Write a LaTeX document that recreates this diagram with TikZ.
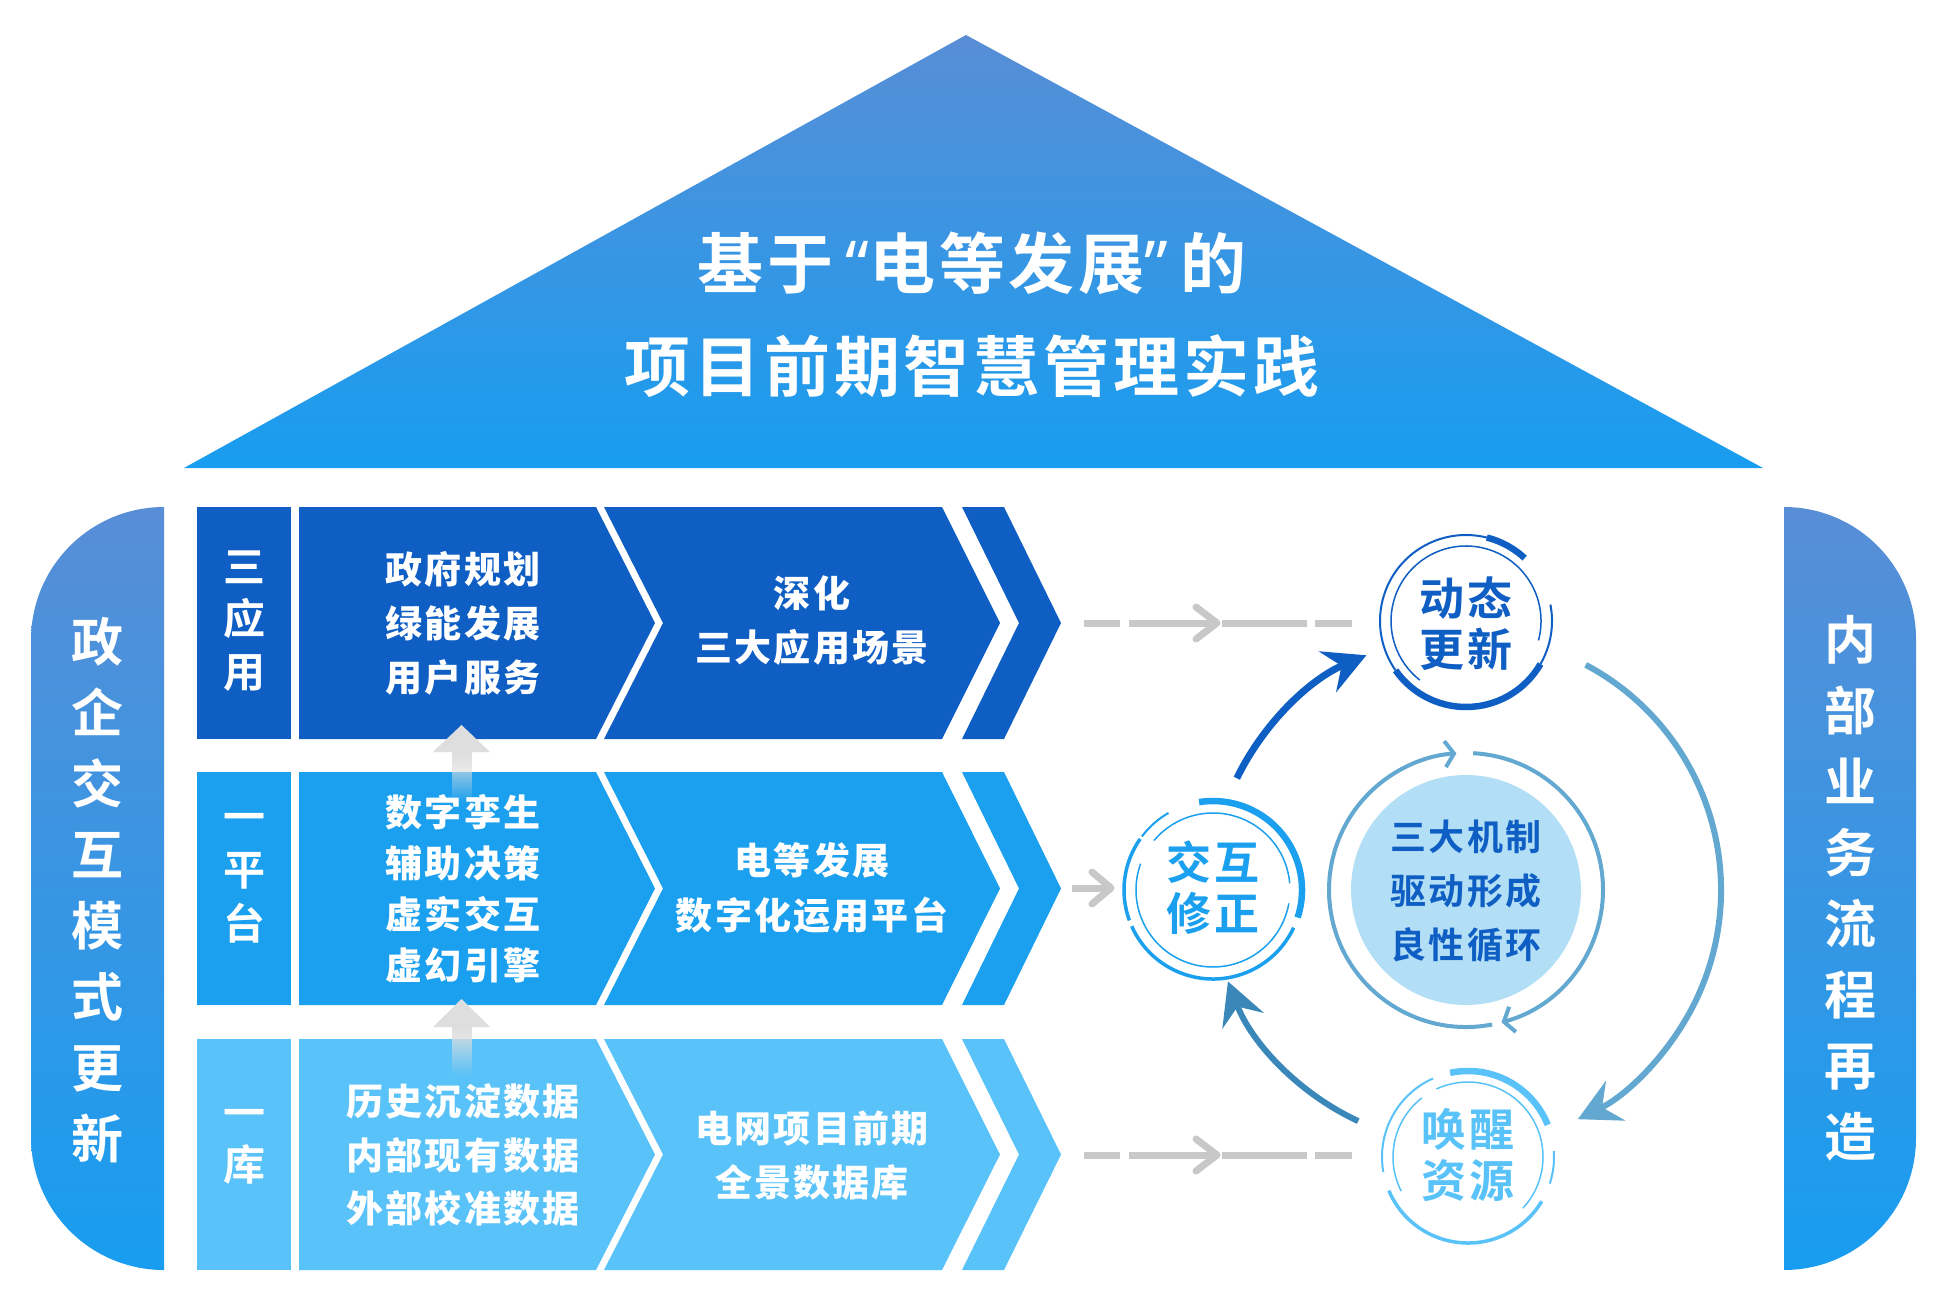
\documentclass[tikz,border=0pt]{standalone}
\usepackage{fontspec}
\setmainfont{Noto Sans CJK SC}[LetterSpace=6]
\IfFontExistsTF{Noto Sans CJK SC Black}
  {\newfontfamily\heavy{Noto Sans CJK SC Black}[LetterSpace=6]}
  {\newfontfamily\heavy{Noto Sans CJK SC}[LetterSpace=6, FakeBold=3, BoldFeatures={FakeBold=3}]}
\newfontfamily\latq{Noto Sans}
\usetikzlibrary{arrows.meta,fadings}
\definecolor{dk}{RGB}{15,94,196}
\definecolor{md}{RGB}{27,160,239}
\definecolor{lt}{RGB}{89,194,248}
\definecolor{gtop}{RGB}{88,142,214}
\definecolor{gbot}{RGB}{24,157,240}
\definecolor{ringc}{RGB}{98,168,208}
\definecolor{arcbl}{RGB}{58,135,186}
\definecolor{discc}{RGB}{178,223,246}
\definecolor{dashg}{RGB}{200,200,200}
\definecolor{upg}{RGB}{222,222,222}
\tikzfading[name=fadedown, top color=transparent!0, bottom color=transparent!100]
\tikzset{
  wtxt/.style={text=white, align=center, inner sep=0pt},
  ctxt/.style={align=center, inner sep=0pt},
  dashln/.style={dashg, line width=7pt},
  chevln/.style={dashg, line width=7pt, line cap=round, line join=round},
  bigtip/.style={-{Stealth[length=42pt,width=44pt,inset=15pt]}},
  smalltip/.style={-{Straight Barb[length=9pt,width=26pt]}},
}
\newcommand\rowband[3]{%
  \fill[#3] (197,#1) rectangle (291,#2);
  \fill[#3] (299,#1) -- (596,#1) -- (655,{(#1+#2)/2}) -- (596,#2) -- (299,#2) -- cycle;
  \fill[#3] (604,#1) -- (942,#1) -- (1000,{(#1+#2)/2}) -- (942,#2) -- (604,#2) -- (663,{(#1+#2)/2}) -- cycle;
  \fill[#3] (962,#1) -- (1004,#1) -- (1061,{(#1+#2)/2}) -- (1004,#2) -- (962,#2) -- (1019,{(#1+#2)/2}) -- cycle;
}
\newcommand\seg[6]{\draw[#1, line width=#2] (#3) ++(#4:#6) arc[start angle=#4, end angle=#5, radius=#6];}
\begin{document}
\begin{tikzpicture}[x=1pt,y=-1pt]
\fill[white] (0,0) rectangle (1947,1306);
\useasboundingbox (0,0) rectangle (1947,1306);

% roof
\shade[top color=gtop, bottom color=gbot] (966,35) -- (1763,468) -- (184,468) -- cycle;
\node[wtxt, font=\heavy\bfseries\fontsize{66}{103}\selectfont] (title) at (972,315) {基于\kern12pt{\latq\bfseries“}电等发展{\latq\bfseries”}\kern12pt的\\项目前期智慧管理实践};

% side panels
\shade[top color=gtop, bottom color=gbot] (164,507) arc[start angle=-90,end angle=-180,radius=133] -- (31,1137) arc[start angle=180,end angle=90,radius=133] -- cycle;
\shade[top color=gtop, bottom color=gbot] (1784,1270) -- (1784,507) arc[start angle=-90,end angle=0,radius=132] -- (1916,1138) arc[start angle=0,end angle=90,radius=132] -- cycle;
\node[wtxt, font=\heavy\bfseries\fontsize{52}{71}\selectfont] (lefttxt) at (97,890) {政\\企\\交\\互\\模\\式\\更\\新};
\node[wtxt, font=\heavy\bfseries\fontsize{52}{71}\selectfont] (righttxt) at (1850,888) {内\\部\\业\\务\\流\\程\\再\\造};

% rows
\rowband{507}{739}{dk}
\rowband{772}{1005}{md}
\rowband{1039}{1270}{lt}

% up arrows
\fill[upg, path fading=fadedown] (452,752) rectangle (472,802);
\fill[upg] (433,752) -- (461.5,725) -- (490,752) -- cycle;
\fill[upg, path fading=fadedown] (452,1027) rectangle (472,1075);
\fill[upg] (433,1027) -- (461.5,999) -- (490,1027) -- cycle;

% row texts
\node[wtxt, font=\heavy\bfseries\fontsize{42}{52.5}\selectfont] (l1) at (244,621) {三\\应\\用};
\node[wtxt, font=\bfseries\fontsize{37}{54}\selectfont] (b1) at (463,623) {政府规划\\绿能发展\\用户服务};
\node[wtxt, font=\bfseries\fontsize{37}{54}\selectfont] (p1) at (812,621) {深化\\三大应用场景};

\node[wtxt, font=\heavy\bfseries\fontsize{42}{53.5}\selectfont] (l2) at (244,878) {一\\平\\台};
\node[wtxt, font=\bfseries\fontsize{37}{51}\selectfont] (b2) at (463,889) {数字孪生\\辅助决策\\虚实交互\\虚幻引擎};
\node[wtxt, font=\bfseries\fontsize{37}{55}\selectfont] (p2) at (812,888) {电等发展\\数字化运用平台};

\node[wtxt, font=\heavy\bfseries\fontsize{42}{52}\selectfont] (l3) at (244,1147) {一\\库};
\node[wtxt, font=\bfseries\fontsize{37}{53.5}\selectfont] (b3) at (463,1155) {历史沉淀数据\\内部现有数据\\外部校准数据};
\node[wtxt, font=\bfseries\fontsize{37}{54}\selectfont] (p3) at (812,1156) {电网项目前期\\全景数据库};

% connectors from rows
\coordinate (d1a) at (1084,623); \coordinate (d1b) at (1352,623);
\draw[dashln, dash pattern=on 36pt off 9pt on 87pt off 6pt on 85pt off 8pt on 40pt] (d1a) -- (d1b);
\draw[chevln] (1196,607) -- (1217,623) -- (1196,639);
\coordinate (d2a) at (1072,888); \coordinate (d2b) at (1108,888);
\draw[dashln] (d2a) -- (d2b);
\draw[chevln] (1092,872) -- (1111,888) -- (1092,904);
\coordinate (d3a) at (1084,1155); \coordinate (d3b) at (1352,1155);
\draw[dashln, dash pattern=on 36pt off 9pt on 87pt off 6pt on 85pt off 8pt on 40pt] (d3a) -- (d3b);
\draw[chevln] (1196,1139) -- (1217,1155) -- (1196,1171);

% centres
\coordinate (c0) at (1466,890);
\coordinate (c1) at (1466,621);
\coordinate (c2) at (1213,890);
\coordinate (c3) at (1468,1157);

% central disc and ring
\fill[discc] (c0) circle[radius=115];
\draw[ringc, line width=4pt, smalltip] (c0) ++(79:137) arc[start angle=79,end angle=266,radius=137];
\draw[ringc, line width=4pt, smalltip] (c0) ++(-87:137) arc[start angle=-87,end angle=75,radius=137];
\node[ctxt, text=dk, font=\heavy\bfseries\fontsize{36}{54}\selectfont] (mech) at (1466,891) {三大机制\\驱动形成\\良性循环};

% big cycle arcs
\draw[dk, line width=7pt, bigtip] (c0) ++(-154:255) arc[start angle=-154, end angle=-113, radius=255];
\draw[ringc, line width=6pt, bigtip] (c0) ++(-62:255) arc[start angle=-62, end angle=64, radius=255];
\draw[arcbl, line width=6pt, bigtip] (c0) ++(115:255) arc[start angle=115, end angle=159, radius=255];

% small circles
\fill[white] (c1) circle[radius=80];
\seg{dk}{2pt}{c1}{-76}{-215}{86}
\seg{dk}{6.5pt}{c1}{-215}{-330}{86}
\seg{dk}{2pt}{c1}{-330}{-371}{86}
\seg{dk}{6.5pt}{c1}{-47}{-76}{86}
\seg{dk}{1.5pt}{c1}{15}{-232}{75}
\node[ctxt, text=dk, font=\heavy\bfseries\fontsize{45}{51}\selectfont] (n1) at (1466,624) {动态\\更新};

\fill[white] (c2) circle[radius=82];
\seg{md}{6.5pt}{c2}{18}{-99}{89}
\seg{md}{3.5pt}{c2}{-145}{-200}{89}
\seg{md}{3.5pt}{c2}{-204}{-335}{89}
\seg{md}{2pt}{c2}{-120}{-143}{89}
\seg{md}{1.5pt}{c2}{-5}{-140}{77}
\seg{md}{1.5pt}{c2}{-160}{-350}{77}
\node[ctxt, text=md, font=\heavy\bfseries\fontsize{45}{51}\selectfont] (n2) at (1213,888) {交互\\修正};

\fill[white] (c3) circle[radius=80];
\seg{lt}{6.5pt}{c3}{-22}{-102}{86}
\seg{lt}{2pt}{c3}{-114}{-190}{86}
\seg{lt}{3.5pt}{c3}{-203}{-329}{86}
\seg{lt}{2pt}{c3}{18}{-4}{86}
\seg{lt}{1.5pt}{c3}{43}{-115}{75}
\seg{lt}{1.5pt}{c3}{-128}{-207}{75}
\node[ctxt, text=lt, font=\heavy\bfseries\fontsize{45}{51}\selectfont] (n3) at (1468,1155) {唤醒\\资源};
\end{tikzpicture}
\end{document}
